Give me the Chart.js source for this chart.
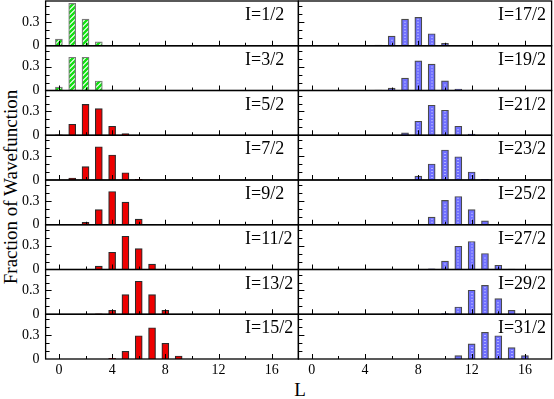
<!DOCTYPE html>
<html>
<head>
<meta charset="utf-8">
<script src="https://cdn.jsdelivr.net/npm/chart.js@4.4.1/dist/chart.umd.min.js"></script>
<style>
  body { margin: 0; background: #fff; }
  #page { position: relative; width: 554px; height: 399px; overflow: hidden; }
  canvas { position: absolute; }
  .lab { position: absolute; font-family: "Liberation Serif", serif; color: #000; white-space: nowrap; }
  #ylab { font-size: 19px; left: 11px; top: 187px; transform: translate(-50%, -50%) rotate(-90deg); }
  #xlab { font-size: 19px; left: 300px; top: 390px; transform: translate(-50%, -50%); }
</style>
</head>
<body>
<div id="page">
  <div class="lab" id="ylab">Fraction of Wavefunction</div>
  <div class="lab" id="xlab">L</div>
</div>
<script>
// angular momentum L of each bar
const L = [0, 1, 2, 3, 4, 5, 6, 7, 8, 9, 10, 11, 12, 13, 14, 15, 16];

// panel labels, left column then right column
const spins = ["I=1/2", "I=3/2", "I=5/2", "I=7/2", "I=9/2", "I=11/2", "I=13/2", "I=15/2",
               "I=17/2", "I=19/2", "I=21/2", "I=23/2", "I=25/2", "I=27/2", "I=29/2", "I=31/2"];

// fraction of wavefunction for each L (index = L)
const f1_2  = [0.085, 0.535, 0.337, 0.05, 0.006, 0, 0, 0, 0, 0, 0, 0, 0, 0, 0, 0, 0];
const f3_2  = [0.042, 0.42, 0.42, 0.12, 0.006, 0, 0, 0, 0, 0, 0, 0, 0, 0, 0, 0, 0];
const f5_2  = [0.006, 0.139, 0.39, 0.337, 0.114, 0.021, 0, 0, 0, 0, 0, 0, 0, 0, 0, 0, 0];
const f7_2  = [0, 0.025, 0.168, 0.42, 0.316, 0.092, 0.01, 0, 0, 0, 0, 0, 0, 0, 0, 0, 0];
const f9_2  = [0, 0, 0.029, 0.19, 0.42, 0.285, 0.071, 0.006, 0, 0, 0, 0, 0, 0, 0, 0, 0];
const f11_2 = [0, 0, 0, 0.042, 0.218, 0.42, 0.265, 0.067, 0.006, 0, 0, 0, 0, 0, 0, 0, 0];
const f13_2 = [0, 0, 0, 0.004, 0.05, 0.249, 0.417, 0.249, 0.05, 0, 0, 0, 0, 0, 0, 0, 0];
const f15_2 = [0, 0, 0, 0, 0.008, 0.097, 0.294, 0.395, 0.198, 0.038, 0, 0, 0, 0, 0, 0, 0];
const f17_2 = [0, 0, 0, 0, 0, 0.008, 0.122, 0.337, 0.358, 0.152, 0.03, 0, 0, 0, 0, 0, 0];
const f19_2 = [0, 0, 0, 0, 0, 0.004, 0.03, 0.157, 0.375, 0.333, 0.122, 0.018, 0, 0, 0, 0, 0];
const f21_2 = [0, 0, 0, 0, 0, 0, 0, 0.029, 0.177, 0.379, 0.316, 0.114, 0.015, 0, 0, 0, 0];
const f23_2 = [0, 0, 0, 0, 0, 0, 0, 0, 0.05, 0.202, 0.379, 0.294, 0.101, 0.01, 0, 0, 0];
const f25_2 = [0, 0, 0, 0, 0, 0, 0, 0, 0.005, 0.096, 0.307, 0.357, 0.19, 0.05, 0, 0, 0];
const f27_2 = [0, 0, 0, 0, 0, 0, 0, 0, 0, 0.008, 0.105, 0.294, 0.354, 0.202, 0.054, 0.006, 0];
const f29_2 = [0, 0, 0, 0, 0, 0, 0, 0, 0, 0, 0.008, 0.092, 0.303, 0.366, 0.198, 0.05, 0];
const f31_2 = [0, 0, 0, 0, 0, 0, 0, 0, 0, 0, 0, 0.042, 0.19, 0.337, 0.294, 0.143, 0.042];

const series = [f1_2, f3_2, f5_2, f7_2, f9_2, f11_2, f13_2, f15_2,
                f17_2, f19_2, f21_2, f23_2, f25_2, f27_2, f29_2, f31_2];

const xTickLabels = [0, 4, 8, 12, 16];
const xTickMarks = [0, 2, 4, 6, 8, 10, 12, 14, 16];
const yTickLabels = [0, 0.3];
const yTickMarks = [0.1, 0.2, 0.3, 0.4, 0.5];

const font = '"Liberation Serif", "Times New Roman", serif';

// green / white diagonal hatch
function hatch() {
  const c = document.createElement("canvas");
  c.width = 5; c.height = 5;
  const g = c.getContext("2d");
  g.fillStyle = "#fff";
  g.fillRect(0, 0, 5, 5);
  g.strokeStyle = "#10e010";
  g.lineWidth = 2.4;
  g.beginPath();
  g.moveTo(-1, 6); g.lineTo(6, -1);
  g.moveTo(-1, 1); g.lineTo(1, -1);
  g.moveTo(4, 6); g.lineTo(6, 4);
  g.stroke();
  return g.createPattern(c, "repeat");
}
const greenHatch = hatch();

// frame, inward ticks and panel label
const framePlugin = {
  id: "frame",
  afterDatasetsDraw(chart, args, opts) {
    const ctx = chart.ctx;
    const a = chart.chartArea;
    const x = chart.scales.x, y = chart.scales.y;
    ctx.save();
    if (opts.dots) {
      // white dotted centre line on the blue bars
      ctx.fillStyle = "rgba(255,255,255,0.9)";
      chart.getDatasetMeta(0).data.forEach(el => {
        const p = el.getProps(["x", "y", "base"], true);
        for (let yy = p.base - 3; yy > p.y + 1; yy -= 3) {
          ctx.fillRect(Math.round(p.x) - 0.5, yy, 1, 1);
        }
      });
    }
    ctx.strokeStyle = "#000";
    ctx.lineWidth = 1;
    ctx.beginPath();
    xTickMarks.forEach(t => {
      const px = Math.round(x.getPixelForValue(t)) + 0.5;
      const len = t % 4 === 0 ? 5 : 3;
      ctx.moveTo(px, a.bottom);
      ctx.lineTo(px, a.bottom - len);
    });
    yTickMarks.forEach(t => {
      const py = Math.round(y.getPixelForValue(t)) + 0.5;
      const len = Math.abs(t - 0.3) < 1e-6 ? 6 : 4;
      ctx.moveTo(a.left, py);
      ctx.lineTo(a.left + len, py);
    });
    ctx.stroke();
    ctx.lineWidth = 1.3;
    ctx.strokeRect(a.left, a.top, a.right - a.left, a.bottom - a.top);
    ctx.fillStyle = "#000";
    ctx.font = "18px " + font;
    ctx.textAlign = "left";
    ctx.textBaseline = "alphabetic";
    ctx.fillText(opts.label, a.left + 199.5, a.top + 19);
    ctx.restore();
  }
};

const page = document.getElementById("page");
const PANEL_TOP = 1, PANEL_H = 44.75;
const LEFT_X0 = 45.6, MID_X = 298.4, RIGHT_X1 = 551.6;

series.forEach((vals, i) => {
  const col = i < 8 ? 0 : 1;
  const row = i % 8;
  const top = PANEL_TOP + row * PANEL_H;
  const bottom = top + PANEL_H;
  const last = row === 7;

  const cTop = Math.floor(top) - 9;
  const cBottom = last ? 399 : Math.ceil(bottom) + 9;
  const cLeft = col === 0 ? 0 : 290;
  const cRight = col === 0 ? 302 : 554;

  const canvas = document.createElement("canvas");
  canvas.width = cRight - cLeft;
  canvas.height = cBottom - cTop;
  canvas.style.left = cLeft + "px";
  canvas.style.top = cTop + "px";
  page.appendChild(canvas);

  let fill, border;
  if (i < 2) { fill = greenHatch; border = "#7a7a7a"; }
  else if (i < 8) { fill = "#ee0000"; border = "#2a2a2a"; }
  else { fill = "#6f6fff"; border = "#4a4a4a"; }

  new Chart(canvas, {
    type: "bar",
    data: {
      datasets: [{
        data: L.map((l, k) => ({ x: l, y: vals[k] > 0 ? vals[k] : null })),
        backgroundColor: fill,
        borderColor: border,
        borderWidth: 1.2,
        borderSkipped: "bottom",
        barThickness: 7
      }]
    },
    options: {
      responsive: false,
      animation: false,
      devicePixelRatio: 1,
      layout: {
        padding: {
          top: top - cTop,
          bottom: last ? 0 : cBottom - bottom,
          left: col === 0 ? 0 : MID_X - cLeft,
          right: cRight - (col === 0 ? MID_X : RIGHT_X1)
        }
      },
      plugins: {
        legend: { display: false },
        tooltip: { enabled: false },
        frame: { label: spins[i], dots: col === 1 }
      },
      scales: {
        x: {
          type: "linear",
          min: -1,
          max: 18,
          offset: false,
          display: last,
          grid: { display: false, drawTicks: false },
          border: { display: false },
          afterBuildTicks: s => { s.ticks = xTickLabels.map(v => ({ value: v })); },
          afterFit: s => {
            s.height = last ? cBottom - bottom : 0;
            s.paddingLeft = 0; s.paddingRight = 0;
          },
          ticks: { color: "#000", padding: 3, font: { family: font, size: 14 } }
        },
        y: {
          min: 0,
          max: 0.565,
          display: col === 0,
          grid: { display: false, drawTicks: false },
          border: { display: false },
          afterBuildTicks: s => { s.ticks = yTickLabels.map(v => ({ value: v })); },
          afterFit: s => {
            s.width = col === 0 ? LEFT_X0 : 0;
            s.paddingTop = 0; s.paddingBottom = 0;
          },
          ticks: {
            color: "#000",
            padding: 6,
            font: { family: font, size: 14 },
            callback: v => (v === 0 ? "0" : v.toFixed(1))
          }
        }
      }
    },
    plugins: [framePlugin]
  });
});
</script>
</body>
</html>
